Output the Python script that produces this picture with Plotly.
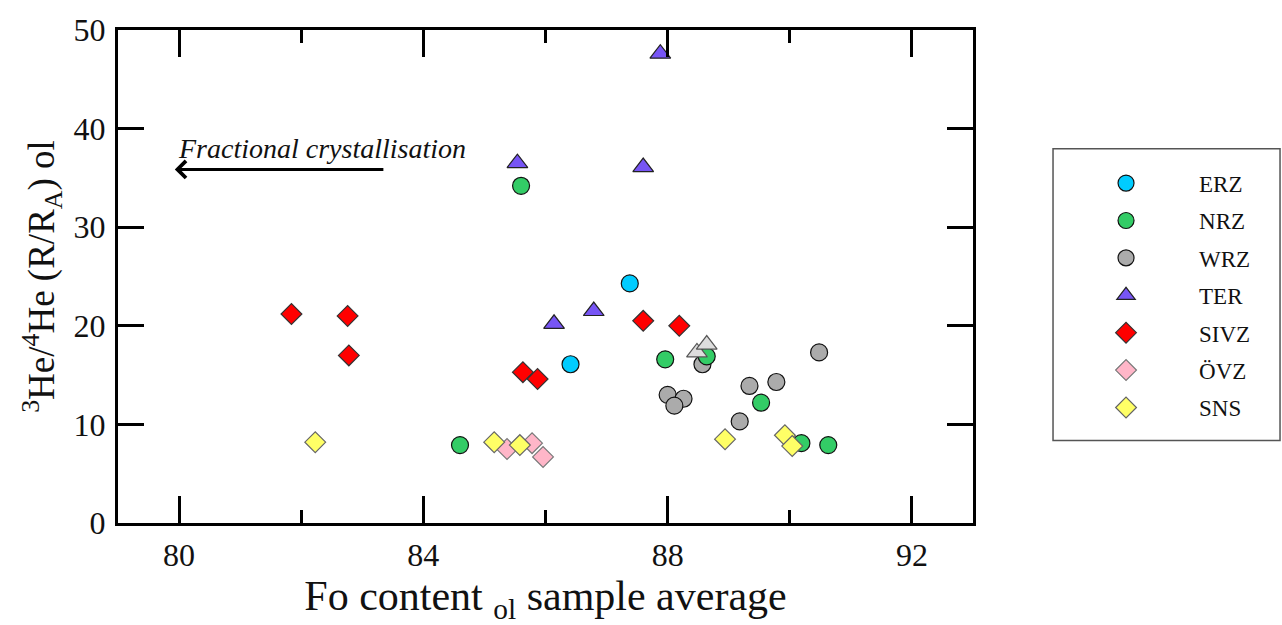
import plotly.graph_objects as go

# Fo content of olivine (sample average) and 3He/4He (R/RA) per rift zone
erz_fo = [87.38, 86.41]
erz_he = [24.3, 16.1]

nrz_fo = [85.60, 84.60, 87.96, 88.64, 89.53, 90.19, 90.63]
nrz_he = [34.2, 7.9, 16.6, 16.9, 12.2, 8.1, 7.9]

wrz_fo = [88.57, 88.00, 88.26, 88.11, 89.18, 89.34, 89.78, 90.48]
wrz_he = [16.1, 13.0, 12.6, 11.9, 10.3, 13.9, 14.3, 17.3]

ter_fo = [87.88, 85.54, 87.60, 86.14, 86.79]
ter_he = [47.6, 36.5, 36.1, 20.2, 21.5]

ter_alt_fo = [88.48, 88.64]
ter_alt_he = [17.3, 18.1]

sivz_fo = [81.84, 82.76, 82.78, 85.63, 85.87, 87.60, 88.19]
sivz_he = [21.2, 21.0, 17.0, 15.3, 14.6, 20.5, 20.0]

ovz_fo = [85.37, 85.78, 85.96]
ovz_he = [7.5, 8.1, 6.7]

sns_fo = [82.23, 85.16, 85.58, 88.94, 89.92, 90.04]
sns_he = [8.2, 8.2, 7.9, 8.5, 8.9, 7.8]

x_ticks = [80, 84, 88, 92]
y_ticks = [0, 10, 20, 30, 40, 50]

FONT = "Liberation Serif"

fig = go.Figure()


def add_group(name, xs, ys, symbol, fill, size, edge="#111111", rank=1, legend=True):
    fig.add_trace(go.Scatter(
        x=xs, y=ys, mode="markers", name=name,
        legendgroup=name, legendrank=rank, showlegend=legend,
        marker=dict(symbol=symbol, size=size, color=fill,
                    line=dict(color=edge, width=1.2)),
    ))


# drawing order (back to front); legend order set by rank
add_group("WRZ", wrz_fo, wrz_he, "circle", "#ABABAB", 17, rank=3)
add_group("ERZ", erz_fo, erz_he, "circle", "#00CCFF", 17, rank=1)
add_group("NRZ", nrz_fo, nrz_he, "circle", "#33CC66", 17, rank=2)
add_group("ÖVZ", ovz_fo, ovz_he, "diamond", "#FFB6C8", 16, edge="#777777", rank=6)
add_group("SNS", sns_fo, sns_he, "diamond", "#FFFF66", 16, edge="#666666", rank=7)
add_group("SIVZ", sivz_fo, sivz_he, "diamond", "#FF0000", 16, edge="#333333", rank=5)
add_group("TER", ter_fo, ter_he, "triangle-up", "#7755F5", 18, edge="#222222", rank=4)
add_group("TER light", ter_alt_fo, ter_alt_he, "triangle-up", "#DDDDDD", 18,
          edge="#555555", rank=8, legend=False)

# arrow and label for the fractional crystallisation trend
fig.add_annotation(x=79.93, y=35.86, ax=83.37, ay=35.86, xref="x", yref="y",
                   axref="x", ayref="y", text="", showarrow=True,
                   arrowhead=4, arrowsize=1.1, arrowwidth=3, arrowcolor="#000000")
fig.add_annotation(x=82.34, y=38.0, xref="x", yref="y", text="<i>Fractional crystallisation</i>",
                   showarrow=False, font=dict(family=FONT, size=28, color="#111111"))

# legend frame
fig.add_shape(type="rect", xref="paper", yref="paper", x0=1.0936, x1=1.3591,
              y0=0.1675, y1=0.759, line=dict(color="#555555", width=1.5))

axis_common = dict(
    showline=True, linecolor="#000000", linewidth=3, mirror="ticks",
    ticks="inside", tickcolor="#000000", tickwidth=2.5,
    showgrid=False, zeroline=False,
    tickfont=dict(family=FONT, size=32, color="#111111"),
)

fig.update_xaxes(
    range=[79, 93], tickvals=x_ticks, ticklen=27, ticklabelstandoff=2,
    minor=dict(tickvals=[82, 86, 90], ticklen=13, tickwidth=2.5,
               ticks="inside", tickcolor="#000000", showgrid=False),
    title=dict(text="Fo content <sub>ol</sub> sample average",
               font=dict(family=FONT, size=42, color="#111111"), standoff=10),
    **axis_common,
)
fig.update_yaxes(
    range=[0, 50], tickvals=y_ticks, ticklen=26, ticklabelstandoff=3,
    title=dict(text="<sup>3</sup>He/<sup>4</sup>He (R/R<sub>A</sub>) ol",
               font=dict(family=FONT, size=37, color="#111111"), standoff=8),
    **axis_common,
)

fig.update_layout(
    width=1282, height=625,
    margin=dict(l=118, r=309, t=25, b=101),
    paper_bgcolor="#FFFFFF", plot_bgcolor="#FFFFFF",
    font=dict(family=FONT, color="#111111"),
    showlegend=True,
    legend=dict(x=1.0936, y=0.733, xanchor="left", yanchor="top",
                itemwidth=136, tracegroupgap=4.5, borderwidth=0,
                bgcolor="rgba(0,0,0,0)",
                font=dict(family=FONT, size=23, color="#111111")),
)

fig.write_html("out.html")
